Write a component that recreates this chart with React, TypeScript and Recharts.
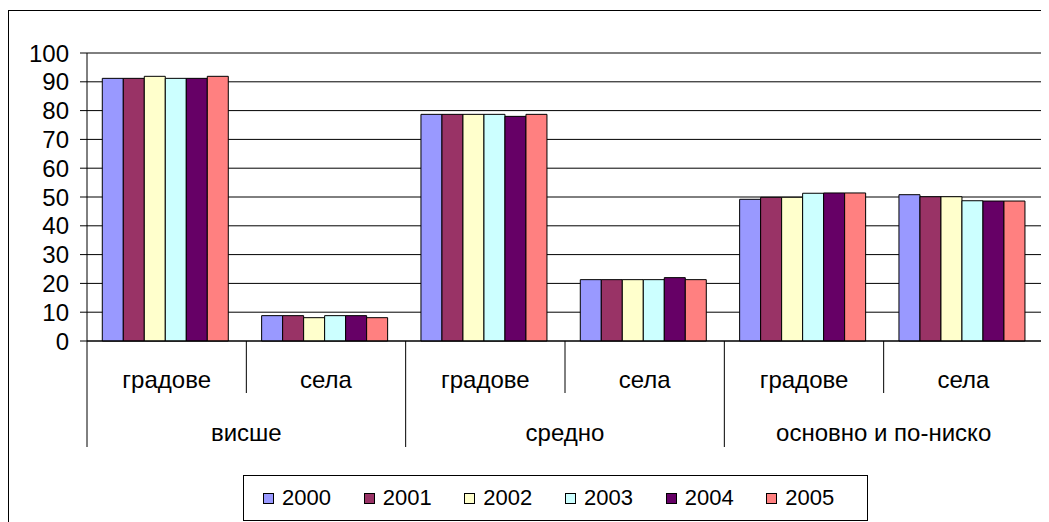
import { Bar, BarChart, CartesianGrid, ReferenceLine, XAxis, YAxis } from "recharts"

const CATEGORIES = ["градове", "села", "градове", "села", "градове", "села"]
const GROUPS = ["висше", "висше", "средно", "средно", "основно и по-ниско", "основно и по-ниско"]
const YEARS = ["2000", "2001", "2002", "2003", "2004", "2005"]
const COLORS = ["#9999FF", "#993366", "#FFFFCC", "#CCFFFF", "#660066", "#FF8080"]
const Y_TICKS = [0, 10, 20, 30, 40, 50, 60, 70, 80, 90, 100]

const S2000 = [91.2, 8.8, 78.7, 21.3, 49.2, 50.8]
const S2001 = [91.2, 8.8, 78.7, 21.3, 49.9, 50.1]
const S2002 = [91.9, 8.1, 78.7, 21.3, 49.9, 50.1]
const S2003 = [91.2, 8.8, 78.7, 21.3, 51.3, 48.7]
const S2004 = [91.2, 8.8, 78.0, 22.0, 51.4, 48.6]
const S2005 = [91.9, 8.1, 78.7, 21.3, 51.4, 48.6]
const SERIES = [S2000, S2001, S2002, S2003, S2004, S2005]

const data = CATEGORIES.map((cat, i) => {
  const row: Record<string, string | number> = { cat, group: GROUPS[i] }
  YEARS.forEach((yr, k) => {
    row[yr] = SERIES[k][i]
  })
  return row
})

const W = 1041
const H = 514
const Y_W = 79
const MARGIN = { top: 45, right: 6, bottom: 71, left: 0 }
const X_H = 110
const BAND = (W - Y_W - MARGIN.left - MARGIN.right) / CATEGORIES.length
const FONT = "'Liberation Sans', Arial, sans-serif"
const FS = 24
const LEGEND_FS = 22

function XTick(props: any) {
  const { x, y, index } = props
  const half = BAND / 2
  const first = index % 2 === 0
  const last = index === CATEGORIES.length - 1
  return (
    <g>
      <line x1={x - half} x2={x - half} y1={y} y2={y + (first ? 106 : 52)} stroke="#000" />
      {last && <line x1={x + half} x2={x + half} y1={y} y2={y + 106} stroke="#000" />}
      <text x={x} y={y + 39} dy="0.35em" textAnchor="middle" fill="#000" fontSize={FS} fontFamily={FONT}>
        {CATEGORIES[index]}
      </text>
      {first && (
        <text x={x + half} y={y + 92} dy="0.35em" textAnchor="middle" fill="#000" fontSize={FS} fontFamily={FONT}>
          {GROUPS[index]}
        </text>
      )}
    </g>
  )
}

export default function App() {
  return (
    <div style={{ position: "relative", width: W, height: H, overflow: "hidden", fontFamily: FONT, background: "#fff" }}>
      <div
        style={{
          position: "absolute",
          left: 0,
          top: 2,
          width: W + 20,
          height: H + 20,
          borderTop: "1px solid #000",
          borderLeft: "1px solid #000",
        }}
      />
      <BarChart width={W} height={H} data={data} margin={MARGIN} barCategoryGap="9.6%" barGap={0}>
        <CartesianGrid vertical={false} stroke="#000" />
        <CartesianGrid
          horizontal={false}
          stroke="#808080"
          verticalCoordinatesGenerator={({ offset }: any) => [offset.left + offset.width]}
        />
        <ReferenceLine y={100} stroke="#808080" />
        <XAxis
          dataKey="cat"
          height={X_H}
          interval={0}
          tickSize={0}
          tickMargin={0}
          axisLine={{ stroke: "#000" }}
          tick={<XTick />}
        />
        <YAxis
          width={Y_W}
          domain={[0, 100]}
          ticks={Y_TICKS}
          interval={0}
          tickSize={7}
          tickMargin={11}
          axisLine={{ stroke: "#000" }}
          tickLine={{ stroke: "#000" }}
          tick={{ fill: "#000", fontSize: FS, fontFamily: FONT }}
        />
        {YEARS.map((yr, k) => (
          <Bar key={yr} dataKey={yr} fill={COLORS[k]} stroke="#000" strokeWidth={1} isAnimationActive={false} />
        ))}
      </BarChart>
      <div
        style={{
          position: "absolute",
          left: 235,
          top: 467,
          width: 625,
          height: 46,
          border: "1px solid #000",
          boxSizing: "border-box",
          background: "#fff",
          display: "flex",
          alignItems: "center",
          paddingLeft: 19,
        }}
      >
        {YEARS.map((yr, k) => (
          <div key={yr} style={{ display: "flex", alignItems: "center", width: 104.5, fontSize: LEGEND_FS, color: "#000" }}>
            <span
              style={{
                display: "inline-block",
                width: 11,
                height: 11,
                background: COLORS[k],
                border: "1px solid #000",
                boxSizing: "border-box",
                marginRight: 8,
              }}
            />
            {yr}
          </div>
        ))}
      </div>
    </div>
  )
}
